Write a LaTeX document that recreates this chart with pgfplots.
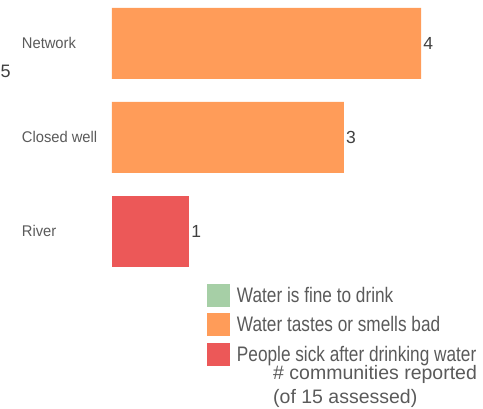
\documentclass[border=0pt]{standalone}
\usepackage{pgfplots}
\pgfplotsset{compat=1.18}
\usepackage{fontspec}
\setmainfont{Liberation Sans}
\newfontfamily\condfont[FakeStretch=0.82]{Liberation Sans}
\newfontfamily\labfont[FakeStretch=0.95]{Liberation Sans}
\definecolor{morange}{HTML}{FF9C59}
\definecolor{mred}{HTML}{EC5858}
\definecolor{mgreen}{HTML}{A6CFA6}
\definecolor{labgray}{HTML}{5A5A5A}
\definecolor{valgray}{HTML}{404040}
\begin{document}
\begin{tikzpicture}
\path[use as bounding box] (0,0) rectangle (483pt,409pt);
\begin{axis}[
  at={(112pt,130.7pt)}, anchor=south west,
  scale only axis, width=347.85pt, height=282pt,
  xbar, bar width=71pt, bar shift=0pt,
  xmin=0, xmax=4.5, ymin=-0.5, ymax=2.5,
  axis line style={draw=none}, tick style={draw=none},
  xtick=\empty,
  ytick={0,1,2}, yticklabels={River,Closed well,Network},
  yticklabel style={anchor=west, inner sep=0pt, xshift=-86pt,
    font=\labfont\fontsize{15.5}{18}\selectfont, text=labgray},
  /pgf/number format/assume math mode=true,
  nodes near coords,
  nodes near coords style={anchor=west, inner sep=0pt, xshift=2pt,
    font=\fontsize{17.5}{20}\selectfont, text=valgray},
  clip=false,
  legend cell align=left,
  legend style={at={(0.2731,-0.0202)}, anchor=north west, draw=none, fill=none,
    inner sep=0pt, outer sep=0pt, row sep=6.3pt, column sep=7pt,
    nodes={inner sep=0pt}, cells={anchor=base west},
    font=\condfont\fontsize{21}{24}\selectfont, text=labgray},
]
\addlegendimage{draw=none, fill=mgreen, legend image code/.code={\fill[mgreen] (0pt,-4.3pt) rectangle (23pt,18.7pt);}}
\addlegendentry{Water is fine to drink}
\addplot[draw=none, fill=morange, legend image code/.code={\fill[morange] (0pt,-4.3pt) rectangle (23pt,18.7pt);}] coordinates {(4,2) (3,1)};
\addlegendentry{Water tastes or smells bad}
\addplot[draw=none, fill=mred, legend image code/.code={\fill[mred] (0pt,-4.3pt) rectangle (23pt,18.7pt);}] coordinates {(1,0)};
\addlegendentry{People sick after drinking water}
\end{axis}
\node[anchor=base west, inner sep=0pt, text=valgray, font=\fontsize{18}{20}\selectfont] at (0.5pt,331pt) {5};
\node[anchor=base west, inner sep=0pt, text=labgray, font=\fontsize{19.5}{22}\selectfont] at (273pt,29pt) {\# communities reported};
\node[anchor=base west, inner sep=0pt, text=labgray, font=\fontsize{19.5}{22}\selectfont] at (273pt,5.7pt) {(of 15 assessed)};
\end{tikzpicture}
\end{document}
